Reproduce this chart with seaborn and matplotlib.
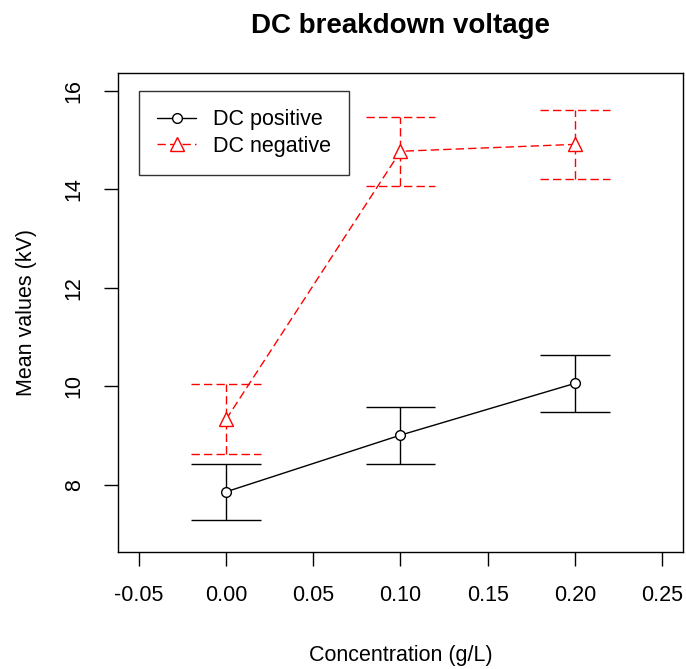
import pandas as pd
import matplotlib
matplotlib.use("Agg")
import matplotlib.pyplot as plt
from matplotlib.lines import Line2D
import seaborn as sns

# data
concentration = [0.00, 0.10, 0.20]
dc_positive = [7.86, 9.01, 10.06]
dc_positive_err = [0.57, 0.58, 0.58]
dc_negative = [9.33, 14.77, 14.91]
dc_negative_err = [0.71, 0.70, 0.70]
series_names = ["DC positive", "DC negative"]

sns.set_style("white")
plt.rcParams["font.family"] = ["Liberation Sans", "DejaVu Sans"]
plt.rcParams["text.color"] = "black"
plt.rcParams["axes.labelcolor"] = "black"
plt.rcParams["xtick.color"] = "black"
plt.rcParams["ytick.color"] = "black"

df = pd.DataFrame({
    "conc": concentration * 2,
    "mean": dc_positive + dc_negative,
    "err": dc_positive_err + dc_negative_err,
    "series": [series_names[0]] * 3 + [series_names[1]] * 3,
})

colors = {"DC positive": "black", "DC negative": "red"}
dash = (6, 3)
styles = {"DC positive": "-", "DC negative": (0, dash)}
markers = {"DC positive": "o", "DC negative": "^"}
msize = {"DC positive": 7, "DC negative": 10}
lw = 1.0

fig = plt.figure(figsize=(6.86, 6.69), dpi=100)
ax = fig.add_axes([0.172, 0.175, 0.8236, 0.716])

sns.lineplot(data=df, x="conc", y="mean", hue="series", style="series",
             palette=colors, dashes={"DC positive": "", "DC negative": dash},
             markers=False, linewidth=lw, ax=ax, legend=False)

# error bars with caps
cap = 0.02
for name in series_names:
    sub = df[df["series"] == name]
    c = colors[name]
    ls = styles[name]
    ax.vlines(sub["conc"], sub["mean"] - sub["err"], sub["mean"] + sub["err"],
              color=c, linestyle=ls, linewidth=lw)
    ax.hlines(sub["mean"] - sub["err"], sub["conc"] - cap, sub["conc"] + cap,
              color=c, linestyle=ls, linewidth=lw)
    ax.hlines(sub["mean"] + sub["err"], sub["conc"] - cap, sub["conc"] + cap,
              color=c, linestyle=ls, linewidth=lw)
    ax.plot(sub["conc"], sub["mean"], linestyle="none", marker=markers[name],
            markersize=msize[name], markerfacecolor="white", markeredgecolor=c,
            markeredgewidth=lw, zorder=5)

ax.set_xlim(-0.062, 0.262)
ax.set_ylim(6.64, 16.36)
ax.set_xticks([-0.05, 0.00, 0.05, 0.10, 0.15, 0.20, 0.25])
ax.set_xticklabels(["-0.05", "0.00", "0.05", "0.10", "0.15", "0.20", "0.25"])
ax.set_yticks([8, 10, 12, 14, 16])
ax.set_yticklabels(["8", "10", "12", "14", "16"], rotation=90, va="center")

for s in ax.spines.values():
    s.set_color("black")
    s.set_linewidth(1.0)
ax.tick_params(axis="both", direction="out", length=10, width=1.0, color="black",
               labelsize=15.5, pad=14, bottom=True, left=True)

ax.set_xlabel("Concentration (g/L)", fontsize=15.5, labelpad=28)
ax.set_ylabel("Mean values (kV)", fontsize=15.5, labelpad=19)
ax.set_title("DC breakdown voltage", fontsize=20, fontweight="bold", pad=29)

handles = [
    Line2D([], [], color="black", linestyle="-", linewidth=lw, marker="o",
           markersize=msize["DC positive"], markerfacecolor="white"),
    Line2D([], [], color="red", linestyle=(0, dash), linewidth=lw, marker="^",
           markersize=msize["DC negative"], markerfacecolor="white"),
]
leg = ax.legend(handles, series_names, loc="upper left", bbox_to_anchor=(0.037, 0.962),
                fontsize=15.5, frameon=True, fancybox=False, edgecolor="black",
                handlelength=1.8, handletextpad=0.8, borderpad=0.85, labelspacing=0.25,
                borderaxespad=0, numpoints=1)
leg.get_frame().set_linewidth(1.0)

fig.savefig("out.png", dpi=100)
